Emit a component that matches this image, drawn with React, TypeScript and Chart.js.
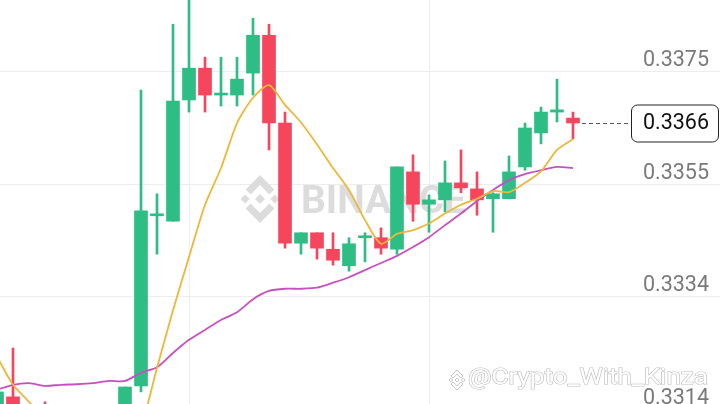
import React, { useEffect, useRef } from 'react';
import { Chart, registerables } from 'chart.js';

Chart.register(...registerables);

// ---- data ----
const opens = [0.33101, 0.33161, 0.33137, 0.33133, 0.33082, 0.33119, 0.33073, 0.33101, 0.33119, 0.33181,
  0.33491, 0.33481, 0.33702, 0.33760, 0.33711, 0.33711, 0.33751, 0.33820, 0.33660, 0.33441,
  0.33460, 0.33430, 0.33400, 0.33451, 0.33451, 0.33430, 0.33571, 0.33512, 0.33520, 0.33551,
  0.33540, 0.33522, 0.33522, 0.33580, 0.33642, 0.33680, 0.33669];
const highs = [0.33174, 0.33250, 0.33137, 0.33152, 0.33133, 0.33137, 0.33128, 0.33137, 0.33179, 0.33720,
  0.33531, 0.33840, 0.33893, 0.33780, 0.33780, 0.33780, 0.33851, 0.33840, 0.33680, 0.33460,
  0.33460, 0.33460, 0.33451, 0.33460, 0.33469, 0.33580, 0.33602, 0.33529, 0.33591, 0.33611,
  0.33571, 0.33533, 0.33600, 0.33660, 0.33689, 0.33740, 0.33680];
const lows = [0.33082, 0.33101, 0.33082, 0.33092, 0.33073, 0.33064, 0.33064, 0.33082, 0.33110, 0.33170,
  0.33421, 0.33481, 0.33680, 0.33680, 0.33691, 0.33691, 0.33711, 0.33611, 0.33432, 0.33421,
  0.33412, 0.33401, 0.33390, 0.33407, 0.33421, 0.33421, 0.33481, 0.33461, 0.33498, 0.33533,
  0.33492, 0.33461, 0.33522, 0.33574, 0.33622, 0.33662, 0.33631];
const closes = [0.33170, 0.33119, 0.33101, 0.33110, 0.33119, 0.33082, 0.33110, 0.33133, 0.33179, 0.33500,
  0.33494, 0.33700, 0.33760, 0.33711, 0.33713, 0.33740, 0.33820, 0.33660, 0.33441, 0.33460,
  0.33432, 0.33410, 0.33440, 0.33454, 0.33432, 0.33580, 0.33512, 0.33520, 0.33551, 0.33542,
  0.33520, 0.33531, 0.33571, 0.33651, 0.33680, 0.33684, 0.33660];
const ma7 = [0.33234, 0.33183, 0.33152, 0.33119, 0.33097, 0.33082, 0.33073, 0.33071, 0.33082, 0.33110,
  0.33214, 0.33319, 0.33416, 0.33511, 0.33578, 0.33660, 0.33706, 0.33729, 0.33693, 0.33661,
  0.33621, 0.33578, 0.33538, 0.33483, 0.33440, 0.33458, 0.33465, 0.33477, 0.33495, 0.33511,
  0.33522, 0.33536, 0.33534, 0.33551, 0.33572, 0.33611, 0.33631];
const ma25 = [0.33174, 0.33183, 0.33186, 0.33181, 0.33183, 0.33184, 0.33186, 0.33190, 0.33190, 0.33205,
  0.33215, 0.33241, 0.33265, 0.33283, 0.33301, 0.33315, 0.33339, 0.33354, 0.33358, 0.33358,
  0.33360, 0.33369, 0.33379, 0.33392, 0.33405, 0.33418, 0.33434, 0.33452, 0.33474, 0.33495,
  0.33518, 0.33538, 0.33556, 0.33567, 0.33574, 0.33580, 0.33578];
const priceTicks = [0.33138, 0.33343, 0.33548, 0.33753];
const timeGridIdx = [12, 27];
const lastPrice = 0.3366;
const yMin = 0.330824;
const yMax = 0.338842;
const xMin = 0.1875;
const xMax = 45.1875;

const GREEN = '#2EBD85';
const RED = '#F6465D';
const GRID = '#ededed';

function logoPath(ctx: CanvasRenderingContext2D, cx: number, cy: number, s: number) {
  const poly = (pts: number[][]) => {
    ctx.moveTo(cx + pts[0][0] * s, cy + pts[0][1] * s);
    for (let i = 1; i < pts.length; i++) ctx.lineTo(cx + pts[i][0] * s, cy + pts[i][1] * s);
    ctx.closePath();
  };
  poly([[0, -0.21], [0.21, 0], [0, 0.21], [-0.21, 0]]);
  poly([[-0.62, -0.19], [-0.43, 0], [-0.62, 0.19], [-0.81, 0]]);
  poly([[0.62, -0.19], [0.81, 0], [0.62, 0.19], [0.43, 0]]);
  poly([[0, -1], [0.6, -0.4], [0.39, -0.19], [0, -0.58], [-0.39, -0.19], [-0.6, -0.4]]);
  poly([[0, 1], [0.6, 0.4], [0.39, 0.19], [0, 0.58], [-0.39, 0.19], [-0.6, 0.4]]);
}

const decorPlugin = {
  id: 'decor',
  beforeDatasetsDraw(chart: any) {
    const ctx: CanvasRenderingContext2D = chart.ctx;
    ctx.save();
    ctx.fillStyle = '#dcdcdc';
    ctx.beginPath();
    logoPath(ctx, 260, 199, 24);
    ctx.fill();
    ctx.font = 'bold 39px Roboto';
    ctx.textBaseline = 'alphabetic';
    ctx.textAlign = 'left';
    const w = ctx.measureText('BINANCE').width;
    ctx.translate(301, 213);
    ctx.scale(165 / w, 1);
    ctx.fillText('BINANCE', 0, 0);
    ctx.restore();
  },
  afterDraw(chart: any) {
    const ctx: CanvasRenderingContext2D = chart.ctx;
    const ys = chart.scales.y;
    const xs = chart.scales.x;
    ctx.save();
    // price axis labels
    ctx.font = '21.5px Roboto';
    ctx.fillStyle = '#7a7a7a';
    ctx.textAlign = 'right';
    ctx.textBaseline = 'middle';
    for (const t of ys.ticks) {
      const py = ys.getPixelForValue(t.value);
      ctx.fillText(t.value.toFixed(4), 709, py - 11);
    }
    // last price line + box
    const ly = Math.round(ys.getPixelForValue(lastPrice)) + 0.5;
    const lx = xs.getPixelForValue(closes.length - 1) + 9;
    ctx.strokeStyle = '#555';
    ctx.lineWidth = 1;
    ctx.setLineDash([4, 3]);
    ctx.beginPath();
    ctx.moveTo(lx, ly);
    ctx.lineTo(631, ly);
    ctx.stroke();
    ctx.setLineDash([]);
    ctx.beginPath();
    ctx.roundRect(631.5, ly - 18.5, 87, 37, 6);
    ctx.fillStyle = '#ffffff';
    ctx.fill();
    ctx.strokeStyle = '#222';
    ctx.stroke();
    ctx.fillStyle = '#111';
    ctx.fillText(lastPrice.toFixed(4), 709, ly);
    // bottom-right watermark
    ctx.beginPath();
    logoPath(ctx, 457, 380, 10);
    ctx.fillStyle = '#ffffff';
    ctx.fill();
    ctx.strokeStyle = '#c4c4c4';
    ctx.lineWidth = 1;
    ctx.stroke();
    ctx.font = '22px Roboto';
    ctx.textAlign = 'left';
    ctx.textBaseline = 'alphabetic';
    const txt = '@Crypto_With_Kinza';
    const tw = ctx.measureText(txt).width;
    ctx.translate(468, 384);
    ctx.scale(240 / tw, 1);
    ctx.fillStyle = '#ffffff';
    ctx.lineWidth = 1.2;
    ctx.strokeStyle = '#c0c0c0';
    ctx.strokeText(txt, 0, 0);
    ctx.fillText(txt, 0, 0);
    ctx.restore();
  },
};

export default function App() {
  const ref = useRef<HTMLCanvasElement | null>(null);
  useEffect(() => {
    if (!ref.current) return;
    const colors = closes.map((c, i) => (c >= opens[i] ? GREEN : RED));
    const chart = new Chart(ref.current, {
      type: 'bar',
      data: {
        datasets: [
          {
            type: 'line',
            label: 'MA7',
            data: ma7.map((v, i) => ({ x: i, y: v })),
            borderColor: '#EDB73A',
            borderWidth: 1.8,
            pointRadius: 0,
            tension: 0.25,
            order: 0,
          } as any,
          {
            type: 'line',
            label: 'MA25',
            data: ma25.map((v, i) => ({ x: i, y: v })),
            borderColor: '#C94FBF',
            borderWidth: 1.8,
            pointRadius: 0,
            tension: 0.25,
            order: 0,
          } as any,
          {
            type: 'bar',
            label: 'body',
            data: opens.map((o, i) => ({ x: i, y: [o, closes[i]] })),
            backgroundColor: colors,
            barThickness: 13,
            minBarLength: 2,
            grouped: false,
            borderWidth: 0,
            order: 1,
          } as any,
          {
            type: 'bar',
            label: 'wick',
            data: lows.map((l, i) => ({ x: i, y: [l, highs[i]] })),
            backgroundColor: colors,
            barThickness: 2,
            grouped: false,
            borderWidth: 0,
            order: 2,
          } as any,
        ],
      },
      options: {
        animation: false,
        responsive: true,
        maintainAspectRatio: false,
        devicePixelRatio: 1,
        layout: { padding: 0 },
        plugins: { legend: { display: false }, tooltip: { enabled: false } },
        scales: {
          x: {
            type: 'linear',
            min: xMin,
            max: xMax,
            offset: false,
            bounds: 'data',
            ticks: { display: false },
            border: { display: false },
            grid: { color: GRID, lineWidth: 1, drawTicks: false, offset: false },
            afterBuildTicks: (s: any) => {
              s.ticks = timeGridIdx.map((v) => ({ value: v }));
            },
          },
          y: {
            type: 'linear',
            position: 'right',
            min: yMin,
            max: yMax,
            beginAtZero: false,
            bounds: 'data',
            ticks: { display: false },
            border: { display: false },
            grid: { color: GRID, lineWidth: 1, drawTicks: false },
            afterBuildTicks: (s: any) => {
              s.ticks = priceTicks.map((v) => ({ value: v }));
            },
          },
        },
      } as any,
      plugins: [decorPlugin],
    });
    return () => chart.destroy();
  }, []);
  return (
    <div style={{ position: 'fixed', left: 0, top: 0, width: 720, height: 440, background: '#fff' }}>
      <canvas ref={ref} />
    </div>
  );
}
